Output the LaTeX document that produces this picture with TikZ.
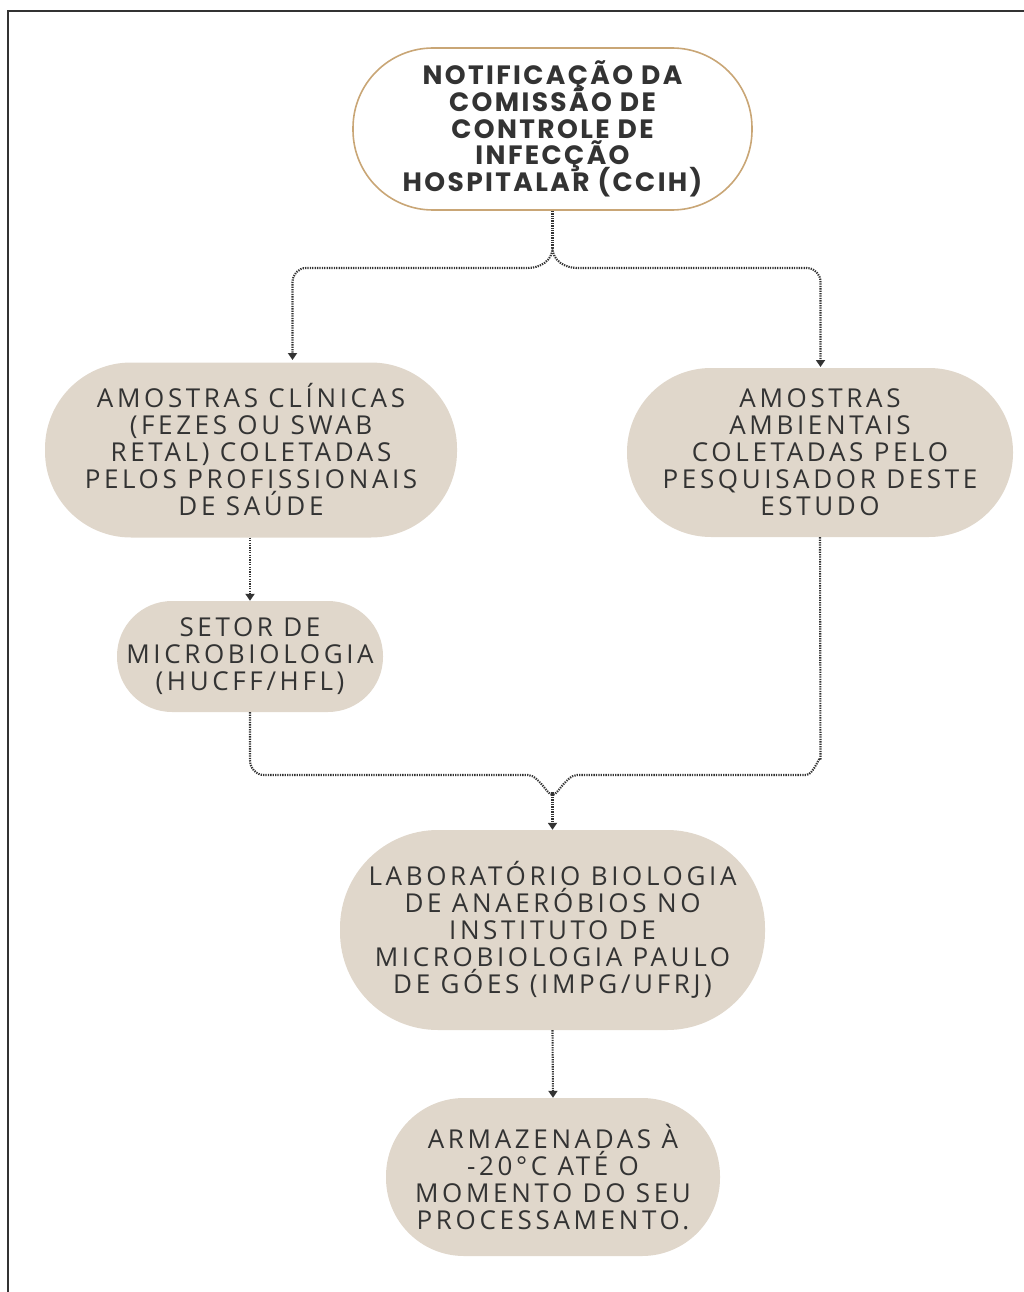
\documentclass[tikz,border=0pt]{standalone}
\usepackage{fontspec}
\setmainfont{Open Sans}[LetterSpace=14]
\newfontfamily\titlefont{Poppins}[LetterSpace=9]
\usetikzlibrary{arrows.meta}
\newcommand\fixlineskip{\lineskiplimit=-100pt\lineskip=0pt\relax}
\AtBeginDocument{\fixlineskip}
\definecolor{boxfill}{HTML}{E0D7CB}
\definecolor{tanline}{HTML}{C9A676}
\definecolor{txt}{HTML}{333333}
\definecolor{conn}{HTML}{333333}
\tikzset{
  pill/.style={shape=rectangle, fill=boxfill, inner sep=0pt, align=center,
    text=txt, font=\fontsize{26}{27}\selectfont,
    execute at begin node=\fixlineskip},
  flow/.style={draw=conn, line width=2.1pt, dash pattern=on 1.3pt off 1.1pt,
    -{Triangle[width=9pt,length=7pt]}},
  flowplain/.style={draw=conn, line width=2.1pt, dash pattern=on 1.3pt off 1.1pt}
}
\begin{document}
\begin{tikzpicture}[x=1pt,y=-1pt]
\useasboundingbox (0,0) rectangle (1024,1292);
\draw[line width=1.4pt, color=black!80] (8,1292) -- (8,11) -- (1024,11);

% boxes
\node[pill, fill=white, draw=tanline, line width=1.6pt, rounded corners=80pt,
  minimum width=399pt, minimum height=162pt,
  font=\titlefont\bfseries\fontsize{26.5}{26.7}\selectfont] (top) at (552.5,129)
  {NOTIFICAÇÃO DA\\COMISSÃO DE\\CONTROLE DE\\INFECÇÃO\\HOSPITALAR (CCIH)};
\node[pill, rounded corners=86pt, minimum width=412pt, minimum height=175pt] (clin) at (251,450)
  {AMOSTRAS CLÍNICAS\\(FEZES OU SWAB\\RETAL) COLETADAS\\PELOS PROFISSIONAIS\\DE SAÚDE};
\node[pill, rounded corners=84pt, minimum width=386pt, minimum height=169pt] (amb) at (820,452.5)
  {AMOSTRAS\\AMBIENTAIS\\COLETADAS PELO\\PESQUISADOR DESTE\\ESTUDO};
\node[pill, rounded corners=55pt, minimum width=266pt, minimum height=111pt] (setor) at (250,656.5)
  {SETOR DE\\MICROBIOLOGIA\\(HUCFF/HFL)};
\node[pill, rounded corners=98pt, minimum width=425pt, minimum height=200pt] (lab) at (552.5,930)
  {LABORATÓRIO BIOLOGIA\\DE ANAERÓBIOS NO\\INSTITUTO DE\\MICROBIOLOGIA PAULO\\DE GÓES (IMPG/UFRJ)};
\node[pill, rounded corners=78pt, minimum width=334pt, minimum height=158pt] (arm) at (553,1177)
  {ARMAZENADAS À\\-20°C ATÉ O\\MOMENTO DO SEU\\PROCESSAMENTO.};

% junction points
\coordinate (split) at (552.5,248);
\coordinate (merge) at (552.5,792);

% connectors
\draw[flowplain] (top.south) -- (split);
\draw[flow] (split) to[out=-90,in=0] (528,268) -- (306,268)
  to[out=180,in=90] (292.5,282) -- (292.5,360);
\draw[flow] (split) to[out=-90,in=180] (577,268) -- (807,268)
  to[out=0,in=90] (820.5,282) -- (820.5,367);
\draw[flow] (clin.south -| setor.north) -- (setor.north);
\draw[flowplain] (setor.south) -- (250,760) to[out=-90,in=180] (264,775) -- (528,775)
  to[out=0,in=-90] (merge);
\draw[flowplain] (amb.south) -- (820.5,760) to[out=90,in=0] (806,775) -- (577,775)
  to[out=180,in=-90] (merge);
\draw[flow] (merge) -- (lab.north);
\draw[flow] (lab.south) -- (arm.north);
\end{tikzpicture}
\end{document}
